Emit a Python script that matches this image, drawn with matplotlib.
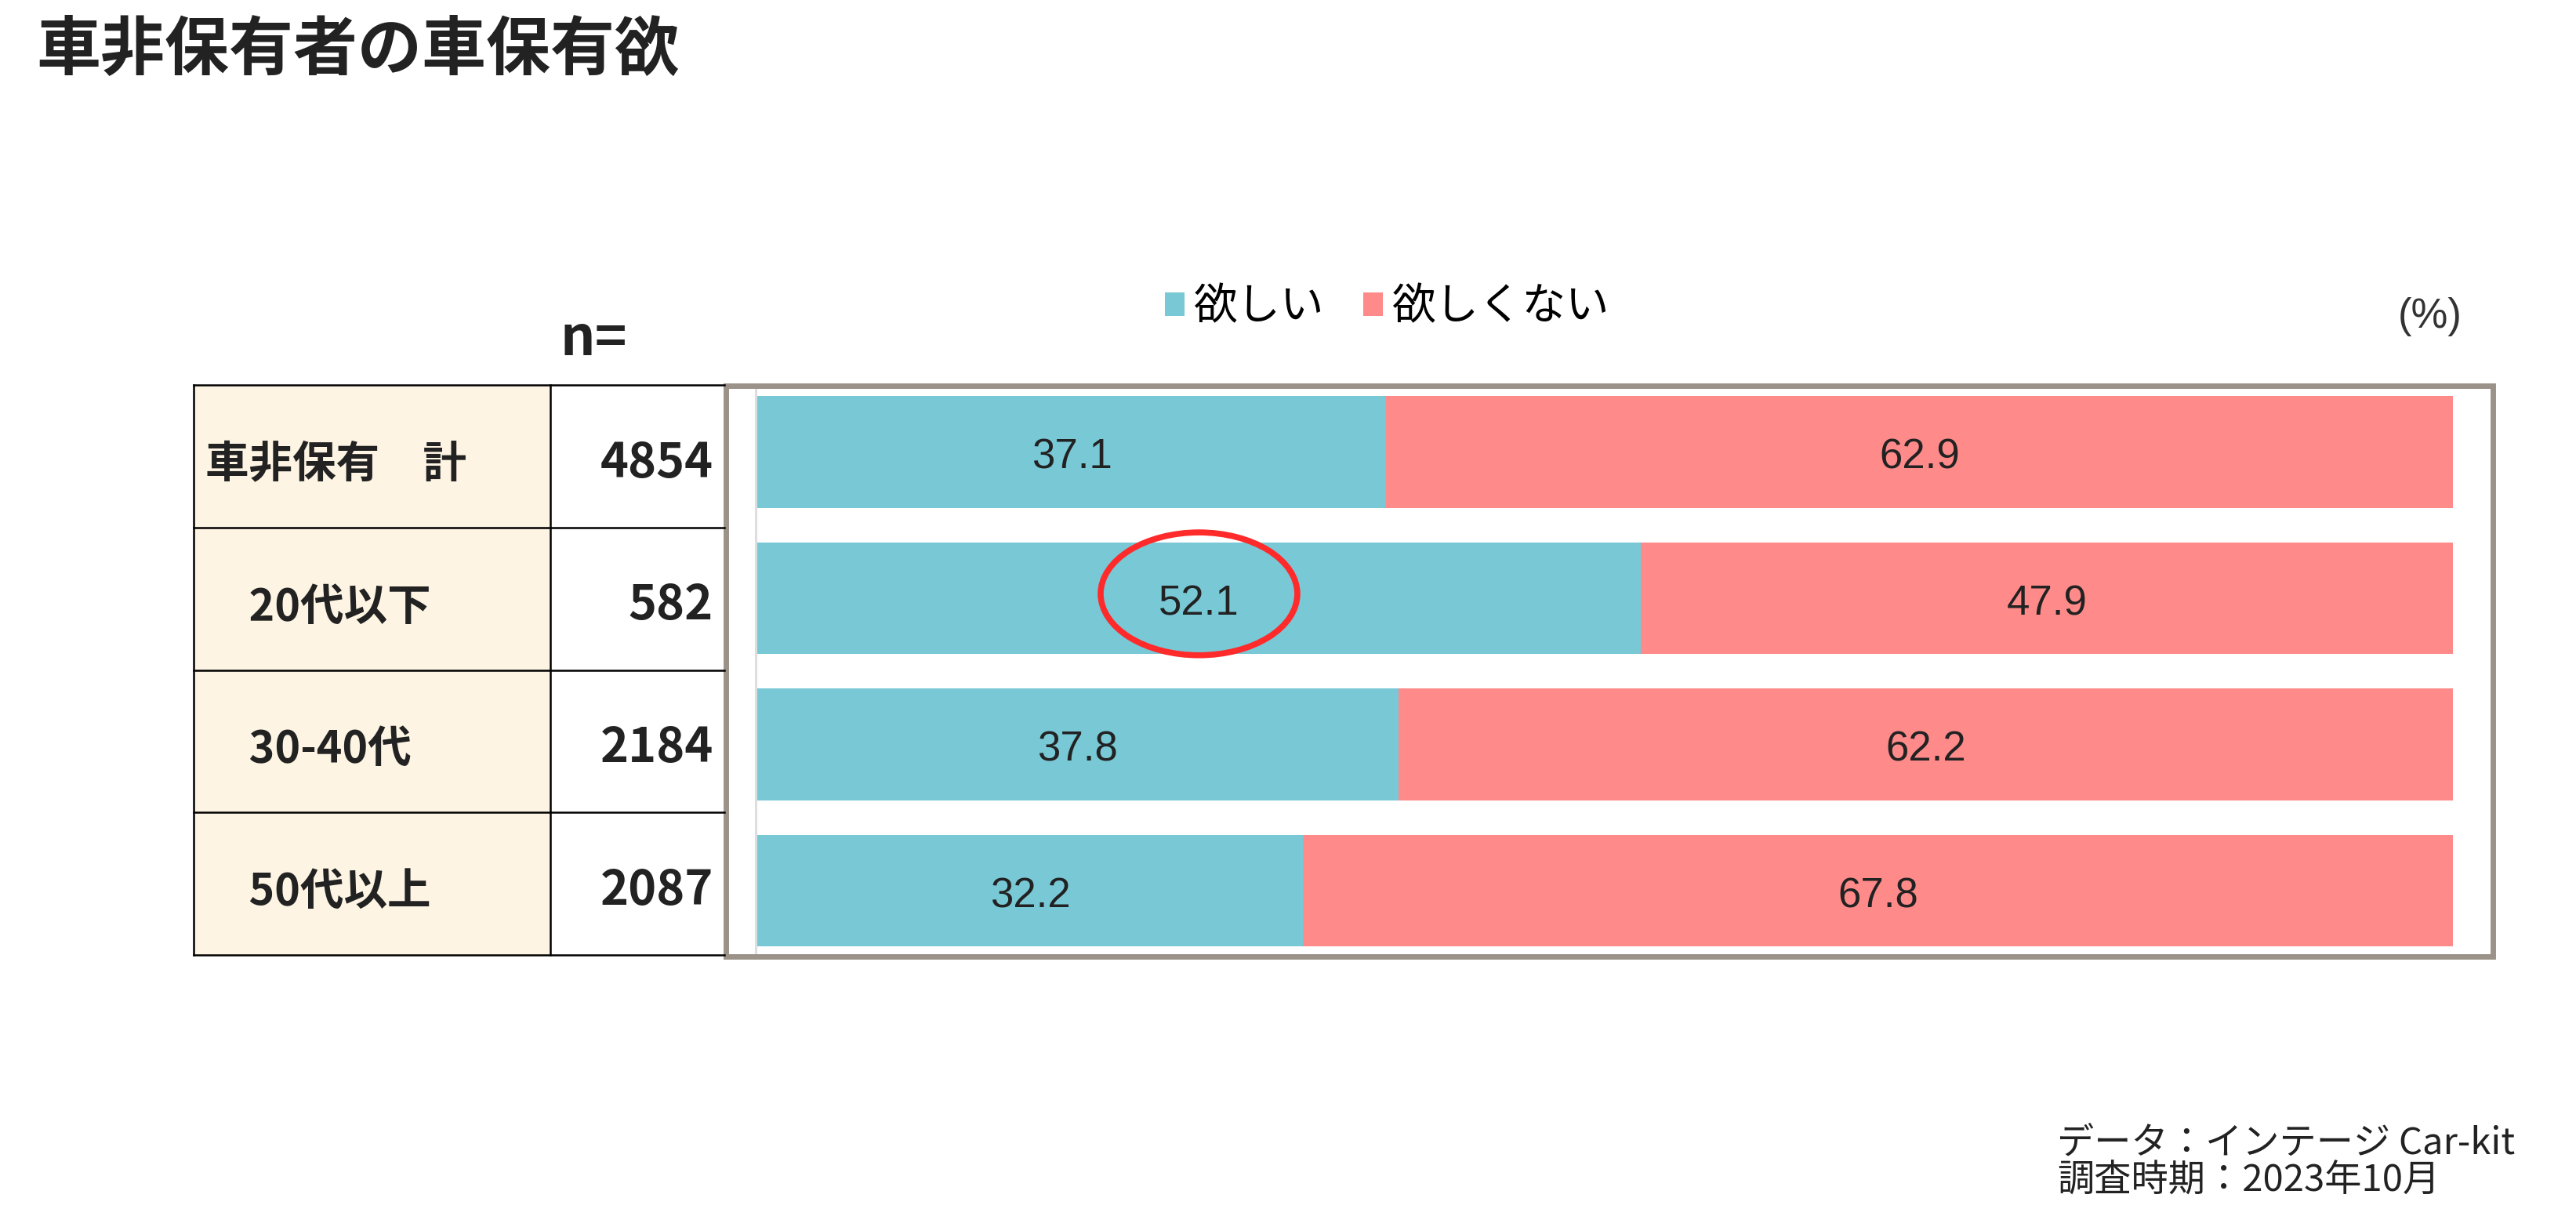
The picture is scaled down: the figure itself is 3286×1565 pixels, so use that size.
import numpy as np
import matplotlib
matplotlib.use('Agg')
import matplotlib.pyplot as plt
from matplotlib.patches import Rectangle, Ellipse

plt.rcParams['font.family'] = ['Noto Sans CJK JP', 'DejaVu Sans']

# data
categories = ['車非保有　計', '　20代以下', '　30-40代', '　50代以上']
n_values = [4854, 582, 2184, 2087]
want = [37.1, 52.1, 37.8, 32.2]        # 欲しい
not_want = [62.9, 47.9, 62.2, 67.8]    # 欲しくない
legend_labels = ['欲しい', '欲しくない']

teal = '#78C8D6'
pink = '#FF8A8A'
frame_gray = '#9B9389'
cream = '#FDF4E3'
txt = '#222222'

W, H = 3286, 1565
fig = plt.figure(figsize=(W / 100, H / 100), dpi=100)

def fx(px):
    return px / W

def fy(py):
    return 1 - py / H

# title
fig.text(fx(46), fy(65), '車非保有者の車保有欲', fontsize=59, fontweight='bold',
         color=txt, ha='left', va='center')

# ---- bar chart inside the gray frame ----
ax = fig.add_axes([fx(925.5), fy(1219.5), (3179.5 - 925.5) / W, (1219.5 - 491.5) / H])
y = np.arange(len(categories))
b1 = ax.barh(y, want, height=0.765, color=teal, label=legend_labels[0], zorder=2)
b2 = ax.barh(y, not_want, left=want, height=0.765, color=pink, label=legend_labels[1], zorder=2)
ax.axvline(-0.07, color='#DEDEDE', lw=2.2, zorder=1)	# category axis line
ax.set_xlim(-1.87, 102.33)
ax.set_ylim(3.448, -0.456)
ax.set_xticks([])
ax.set_yticks([])
for s in ax.spines.values():
    s.set_color(frame_gray)
    s.set_linewidth(5)

for i in range(len(categories)):
    ax.text(want[i] / 2, i + 0.04, f'{want[i]:.1f}', ha='center', va='center',
            fontsize=38, color=txt, family=['Liberation Sans', 'DejaVu Sans'], zorder=3)
    ax.text(want[i] + not_want[i] / 2, i + 0.04, f'{not_want[i]:.1f}', ha='center', va='center',
            fontsize=38, color=txt, family=['Liberation Sans', 'DejaVu Sans'], zorder=3)

# red circle around the 20s value
ax.add_patch(Ellipse((want[1] / 2, 0.97), width=11.6, height=0.84, fill=False,
                     ec='#FF2A2A', lw=5.5, zorder=4))

# legend
fig.legend(handles=[b1, b2], labels=legend_labels, loc='center',
           bbox_to_anchor=(fx(1769), fy(392)), ncol=2, frameon=False,
           fontsize=40, handlelength=0.45, handleheight=0.45,
           handletextpad=0.2, columnspacing=0.9)
fig.text(fx(3100), fy(404), '(%)', fontsize=38, color='#333333',
         ha='center', va='center', family=['Liberation Sans', 'DejaVu Sans'])

# ---- table on the left ----
axt = fig.add_axes([fx(247), fy(1218), (924 - 247) / W, (1218 - 491) / H])
axt.set_xlim(0, 1)
axt.set_ylim(len(categories), 0)
axt.axis('off')
split = 0.672
for i in range(len(categories)):
    axt.add_patch(Rectangle((0, i), split, 1, fc=cream, ec='none', zorder=1))
    axt.text(0.022, i + 0.56, categories[i], ha='left', va='center',
             fontsize=40, fontweight='bold', color=txt, zorder=3)
    axt.text(0.979, i + 0.55, str(n_values[i]), ha='right', va='center',
             fontsize=44, fontweight='bold', color=txt, zorder=3)
for i in range(len(categories) + 1):
    axt.plot([0, 1], [i, i], color='black', lw=1.8, clip_on=False, zorder=2)
axt.plot([0, 0], [0, len(categories)], color='black', lw=1.8, clip_on=False, zorder=2)
axt.plot([split, split], [0, len(categories)], color='black', lw=1.8, clip_on=False, zorder=2)

fig.text(fx(757), fy(433), 'n=', fontsize=50, fontweight='bold', color=txt,
         ha='center', va='center')

# source note
fig.text(fx(2624), fy(1459), 'データ：インテージ Car-kit', fontsize=34, color=txt,
         ha='left', va='center')
fig.text(fx(2624), fy(1505), '調査時期：2023年10月', fontsize=34, color=txt,
         ha='left', va='center')

fig.savefig('out.png', dpi=100, facecolor='white')
